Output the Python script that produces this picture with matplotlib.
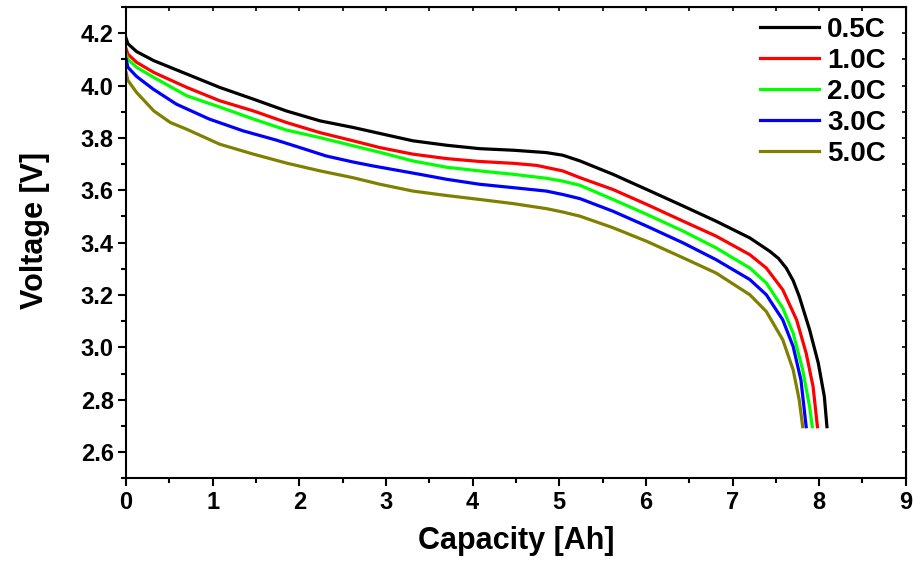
import numpy as np
import matplotlib
matplotlib.use("Agg")
import matplotlib.pyplot as plt
from matplotlib.ticker import MultipleLocator

plt.rcParams['font.family'] = ['Liberation Sans', 'DejaVu Sans']
plt.rcParams['font.weight'] = 'bold'

# discharge curves (capacity Ah, voltage V)
cap_05 = [0.0, 0.02, 0.12, 0.32, 0.70, 1.08, 1.47, 1.85, 2.24, 2.62, 2.93, 3.31, 3.70, 4.08, 4.47,
          4.85, 5.04, 5.24, 5.62, 6.01, 6.43, 6.81, 7.20, 7.43, 7.53, 7.62, 7.70, 7.77, 7.89, 7.99, 8.06, 8.09]
v_05 = [4.18, 4.16, 4.13, 4.095, 4.044, 3.993, 3.948, 3.903, 3.865, 3.840, 3.817, 3.789, 3.772, 3.759, 3.753,
        3.744, 3.734, 3.712, 3.661, 3.603, 3.540, 3.482, 3.418, 3.367, 3.340, 3.303, 3.255, 3.195, 3.067, 2.940,
        2.812, 2.697]

cap_10 = [0.0, 0.02, 0.12, 0.32, 0.70, 1.08, 1.47, 1.85, 2.24, 2.62, 2.93, 3.31, 3.70, 4.08, 4.47,
          4.74, 5.04, 5.24, 5.62, 6.01, 6.43, 6.81, 7.20, 7.39, 7.58, 7.74, 7.85, 7.93, 7.98]
v_10 = [4.14, 4.12, 4.089, 4.050, 3.993, 3.942, 3.903, 3.859, 3.820, 3.789, 3.763, 3.738, 3.721, 3.710, 3.703,
        3.695, 3.674, 3.648, 3.603, 3.546, 3.482, 3.425, 3.354, 3.303, 3.220, 3.105, 2.978, 2.850, 2.697]

cap_20 = [0.0, 0.02, 0.12, 0.32, 0.70, 1.08, 1.47, 1.85, 2.24, 2.62, 2.93, 3.31, 3.70, 4.08, 4.47,
          4.85, 5.04, 5.24, 5.62, 6.01, 6.43, 6.81, 7.20, 7.39, 7.58, 7.70, 7.81, 7.89, 7.92]
v_20 = [4.12, 4.10, 4.07, 4.031, 3.961, 3.918, 3.872, 3.830, 3.801, 3.770, 3.745, 3.712, 3.688, 3.674, 3.661,
        3.646, 3.635, 3.619, 3.565, 3.508, 3.444, 3.380, 3.303, 3.246, 3.150, 3.054, 2.914, 2.773, 2.697]

cap_30 = [0.0, 0.02, 0.12, 0.31, 0.58, 0.96, 1.35, 1.73, 1.96, 2.31, 2.62, 2.85, 3.39, 3.70, 4.08, 4.47,
          4.85, 5.04, 5.24, 5.62, 6.01, 6.43, 6.81, 7.20, 7.39, 7.58, 7.70, 7.79, 7.85]
v_30 = [4.10, 4.07, 4.035, 3.987, 3.929, 3.872, 3.827, 3.792, 3.768, 3.731, 3.708, 3.693, 3.661, 3.642, 3.623, 3.610,
        3.597, 3.584, 3.568, 3.520, 3.463, 3.399, 3.335, 3.259, 3.201, 3.105, 3.003, 2.875, 2.697]

cap_50 = [0.0, 0.02, 0.12, 0.32, 0.51, 0.70, 1.08, 1.47, 1.85, 2.24, 2.62, 2.93, 3.31, 3.70, 4.08, 4.47,
          4.85, 5.04, 5.24, 5.62, 6.01, 6.43, 6.81, 7.20, 7.39, 7.58, 7.70, 7.77, 7.81]
v_50 = [4.05, 4.02, 3.974, 3.903, 3.859, 3.833, 3.776, 3.738, 3.704, 3.674, 3.648, 3.623, 3.597, 3.580, 3.565, 3.549,
        3.530, 3.517, 3.501, 3.457, 3.405, 3.342, 3.284, 3.201, 3.137, 3.029, 2.914, 2.799, 2.697]

labels = ['0.5C', '1.0C', '2.0C', '3.0C', '5.0C']
colors = ['#000000', '#ff0000', '#00ff00', '#0000ff', '#808000']
caps = [cap_05, cap_10, cap_20, cap_30, cap_50]
volts = [v_05, v_10, v_20, v_30, v_50]

fig = plt.figure(figsize=(9.14, 5.62), dpi=100)
ax = fig.add_axes([0.138, 0.149, 0.853, 0.8385])

for c, v, lab, col in zip(caps, volts, labels, colors):
    ax.plot(c, v, color=col, linewidth=2.3, label=lab, solid_joinstyle='round')

ax.set_xlim(0, 9)
ax.set_ylim(2.5, 4.3)
ax.xaxis.set_major_locator(MultipleLocator(1))
ax.xaxis.set_minor_locator(MultipleLocator(0.5))
ax.yaxis.set_minor_locator(MultipleLocator(0.1))
ax.tick_params(which='major', direction='out', length=6, width=1.5, labelsize=17, pad=3)
ax.tick_params(which='minor', direction='out', length=3.5, width=1.5)
yt = np.arange(2.6, 4.21, 0.2)
ax.set_yticks(yt)
ax.set_yticklabels([f'{t:.1f}' for t in yt])

for sp in ax.spines.values():
    sp.set_linewidth(1.5)

# mirrored ticks on top and right, pointing in
top = ax.secondary_xaxis('top')
top.xaxis.set_major_locator(MultipleLocator(1))
top.xaxis.set_minor_locator(MultipleLocator(0.5))
top.tick_params(which='both', direction='in', length=3, width=1.2, labeltop=False)
right = ax.secondary_yaxis('right')
right.yaxis.set_major_locator(MultipleLocator(0.2))
right.yaxis.set_minor_locator(MultipleLocator(0.1))
right.tick_params(which='both', direction='in', length=3, width=1.2, labelright=False)

ax.set_xlabel('Capacity [Ah]', fontsize=22, fontweight='bold', labelpad=9)
ax.set_ylabel('Voltage [V]', fontsize=22, fontweight='bold', labelpad=22)
ax.yaxis.label.set_y(0.525)

ax.legend(loc='upper right', bbox_to_anchor=(0.978, 0.985), frameon=False,
          handlelength=2.1, handletextpad=0.3, labelspacing=0.18,
          borderaxespad=0.0, borderpad=0.1,
          prop={'weight': 'bold', 'size': 20})

fig.savefig('out.png', dpi=100)
